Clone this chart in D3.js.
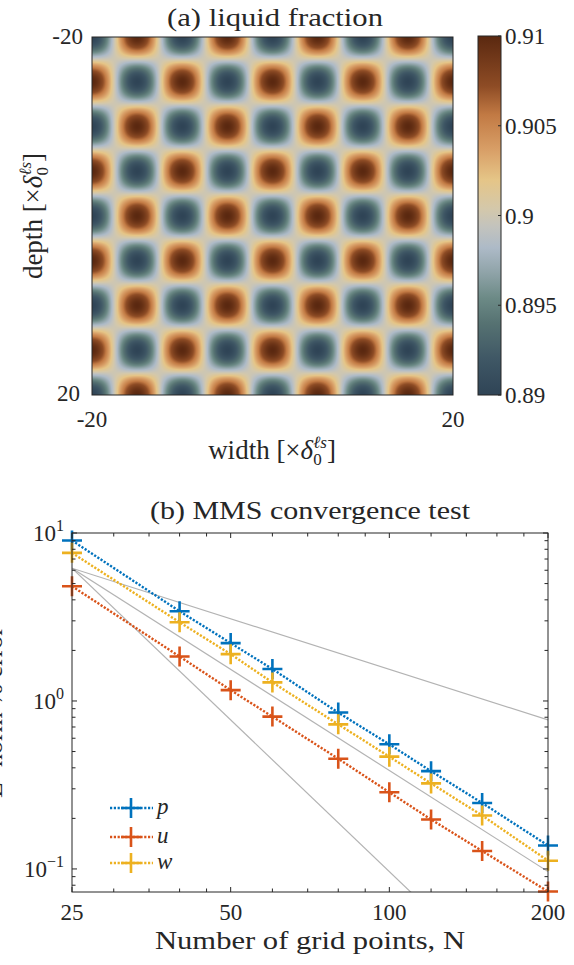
<!DOCTYPE html>
<html>
<head>
<meta charset="utf-8">
<script src="https://cdn.jsdelivr.net/npm/d3@7"></script>
<style>
  html, body { margin: 0; padding: 0; background: #fff; }
  svg text { font-family: 'Liberation Serif', 'Times New Roman', serif; fill: #262626; }
</style>
</head>
<body>
<svg id="fig" width="574" height="965"></svg>
<script>
// (a) manufactured liquid fraction field
const fieldExtent   = [-20, 20];
const fieldMean     = 0.9;
const fieldAmp      = 0.01;
const fieldPeriod   = 10;
const cbarTicks     = [0.89, 0.895, 0.9, 0.905, 0.91];
const cbarLabels    = ['0.89', '0.895', '0.9', '0.905', '0.91'];
const cmapPos       = [0, 0.1, 0.2, 0.27, 0.34, 0.41, 0.47, 0.52, 0.6, 0.68, 0.78, 0.86, 1];
const cmapColors    = ['#2f4456', '#3f5765', '#567272', '#6c8a86', '#8fa3a8', '#adbac7',
                       '#c3c3bd', '#d4c8aa', '#e5c587', '#d9a068', '#c27a44', '#8e4c25', '#5a2810'];

// (b) MMS convergence
const gridN     = [25, 40, 50, 60, 80, 100, 120, 150, 200];
const errP      = [9.02, 3.42, 2.21, 1.55, 0.853, 0.552, 0.382, 0.247, 0.138];
const errU      = [4.82, 1.84, 1.16, 0.807, 0.453, 0.286, 0.197, 0.128, 0.0734];
const errW      = [7.62, 2.94, 1.90, 1.29, 0.726, 0.466, 0.323, 0.208, 0.112];
const refStart  = {n: 25, v: 6.17};
const refOrders = [1, 2, 3];
const xMajor    = [25, 50, 100, 200];
const xMinor    = [30, 35, 40, 45, 60, 70, 80, 90, 120, 140, 160, 180];
const yMajor    = [0.1, 1, 10];
const yMajorExp = ['-1', '0', '1'];
const yMinor    = [0.08, 0.09, 0.2, 0.3, 0.4, 0.5, 0.6, 0.7, 0.8, 0.9, 2, 3, 4, 5, 6, 7, 8, 9];

const series = [
  {name: 'p', values: errP, color: '#0072BD'},
  {name: 'u', values: errU, color: '#D95319'},
  {name: 'w', values: errW, color: '#EDB120'},
];

const svg = d3.select('#fig');
const ink = '#262626';

// ---------- panel (a) ----------
const hx = d3.scaleLinear().domain(fieldExtent).range([92, 453]);
const hy = d3.scaleLinear().domain(fieldExtent).range([37, 395]);
const cmap = d3.scaleLinear()
  .domain(cmapPos.map(t => 0.89 + 0.02 * t))
  .range(cmapColors)
  .interpolate(d3.interpolateRgb)
  .clamp(true);

const cw = Math.round(hx.range()[1] - hx.range()[0]);
const ch = Math.round(hy.range()[1] - hy.range()[0]);
const canvas = document.createElement('canvas');
canvas.width = cw;
canvas.height = ch;
const ctx = canvas.getContext('2d');
const img = ctx.createImageData(cw, ch);
const k = 2 * Math.PI / fieldPeriod;
for (let j = 0; j < ch; j++) {
  const y = hy.invert(hy.range()[0] + j + 0.5);
  for (let i = 0; i < cw; i++) {
    const x = hx.invert(hx.range()[0] + i + 0.5);
    const v = fieldMean - fieldAmp * Math.cos(k * x) * Math.cos(k * y);
    const c = d3.rgb(cmap(v));
    const o = (j * cw + i) * 4;
    img.data[o] = c.r; img.data[o + 1] = c.g; img.data[o + 2] = c.b; img.data[o + 3] = 255;
  }
}
ctx.putImageData(img, 0, 0);

svg.append('image')
  .attr('x', hx.range()[0]).attr('y', hy.range()[0])
  .attr('width', cw).attr('height', ch)
  .attr('preserveAspectRatio', 'none')
  .attr('href', canvas.toDataURL());

svg.append('rect')
  .attr('x', hx.range()[0]).attr('y', hy.range()[0])
  .attr('width', cw).attr('height', ch)
  .attr('fill', 'none').attr('stroke', ink).attr('stroke-width', 1);

svg.append('text').attr('x', 275).attr('y', 26).attr('text-anchor', 'middle')
  .attr('font-size', 26).attr('textLength', 216).attr('lengthAdjust', 'spacingAndGlyphs')
  .text('(a) liquid fraction');

svg.append('text').attr('x', 83).attr('y', hy(-20) + 7).attr('text-anchor', 'end')
  .attr('font-size', 23).text('-20');
svg.append('text').attr('x', 80).attr('y', hy(20) + 6).attr('text-anchor', 'end')
  .attr('font-size', 23).text('20');
svg.append('text').attr('x', hx(-20)).attr('y', 427).attr('text-anchor', 'middle')
  .attr('font-size', 23).text('-20');
svg.append('text').attr('x', hx(20)).attr('y', 427).attr('text-anchor', 'middle')
  .attr('font-size', 23).text('20');

function deltaLabel(sel, word) {
  sel.append('tspan').text(word + ' [×');
  sel.append('tspan').attr('font-style', 'italic').text('δ');
  sel.append('tspan').attr('font-size', 17).attr('dy', 6).text('0');
  sel.append('tspan').attr('font-size', 17).attr('font-style', 'italic')
    .attr('dx', -8.5).attr('dy', -17).text('ℓs');
  sel.append('tspan').attr('dy', 11).text(']');
}

svg.append('text').attr('x', 272).attr('y', 459).attr('text-anchor', 'middle')
  .attr('font-size', 27).call(deltaLabel, 'width');
svg.append('text').attr('transform', 'translate(42,216) rotate(-90)').attr('text-anchor', 'middle')
  .attr('font-size', 27).call(deltaLabel, 'depth');

// colorbar
const cb = d3.scaleLinear().domain([0.89, 0.91]).range([395, 36]);
const grad = svg.append('defs').append('linearGradient')
  .attr('id', 'cbar').attr('x1', 0).attr('y1', 1).attr('x2', 0).attr('y2', 0);
grad.selectAll('stop').data(cmapPos).join('stop')
  .attr('offset', d => d)
  .attr('stop-color', (d, i) => cmapColors[i]);

svg.append('rect').attr('x', 478).attr('y', cb(0.91))
  .attr('width', 23).attr('height', cb(0.89) - cb(0.91))
  .attr('fill', 'url(#cbar)').attr('stroke', ink).attr('stroke-width', 1);

svg.selectAll('.cbtick').data(cbarTicks).join('line')
  .attr('x1', 498).attr('x2', 501)
  .attr('y1', d => cb(d)).attr('y2', d => cb(d))
  .attr('stroke', ink);

svg.selectAll('.cblabel').data(cbarTicks).join('text')
  .attr('x', 505).attr('y', d => cb(d) + 8)
  .attr('font-size', 23)
  .text((d, i) => cbarLabels[i]);

// ---------- panel (b) ----------
const L = 72, R = 548, T = 533, B = 892;
const x = d3.scaleLog().domain([25, 200]).range([L, R]);
const y = d3.scaleLog().domain([0.0729, 10]).range([B, T]);

svg.append('clipPath').attr('id', 'plotclip')
  .append('rect').attr('x', L).attr('y', T).attr('width', R - L).attr('height', B - T);

const plot = svg.append('g').attr('clip-path', 'url(#plotclip)');

plot.selectAll('.ref').data(refOrders).join('line')
  .attr('x1', x(refStart.n)).attr('y1', y(refStart.v))
  .attr('x2', x(200)).attr('y2', d => y(refStart.v * Math.pow(refStart.n / 200, d)))
  .attr('stroke', '#b3b3b3').attr('stroke-width', 1.2);

const line = d3.line().x((d, i) => x(gridN[i])).y(d => y(d));

const plotAll = svg.append('g');
series.forEach(s => {
  plotAll.append('path')
    .attr('d', line(s.values))
    .attr('fill', 'none').attr('stroke', s.color)
    .attr('stroke-width', 2.4).attr('stroke-dasharray', '2.2 1.6');
});

function plus(g, cx, cy, color) {
  g.append('path')
    .attr('d', `M${cx - 10},${cy}H${cx + 10}M${cx},${cy - 10}V${cy + 10}`)
    .attr('stroke', color).attr('stroke-width', 2.6).attr('fill', 'none');
}
series.forEach(s => {
  s.values.forEach((v, i) => plus(plotAll, x(gridN[i]), y(v), s.color));
});

// frame and ticks
svg.append('rect').attr('x', L).attr('y', T).attr('width', R - L).attr('height', B - T)
  .attr('fill', 'none').attr('stroke', ink).attr('stroke-width', 1);

const tickG = svg.append('g').attr('stroke', ink).attr('stroke-width', 1);
[...xMajor.map(d => [d, 5]), ...xMinor.map(d => [d, 3.5])].forEach(([d, len]) => {
  tickG.append('line').attr('x1', x(d)).attr('x2', x(d)).attr('y1', B).attr('y2', B - len);
  tickG.append('line').attr('x1', x(d)).attr('x2', x(d)).attr('y1', T).attr('y2', T + len);
});
[...yMajor.map(d => [d, 5]), ...yMinor.map(d => [d, 3.5])].forEach(([d, len]) => {
  tickG.append('line').attr('y1', y(d)).attr('y2', y(d)).attr('x1', L).attr('x2', L + len);
  tickG.append('line').attr('y1', y(d)).attr('y2', y(d)).attr('x1', R).attr('x2', R - len);
});

svg.selectAll('.xlab').data(xMajor).join('text')
  .attr('x', d => x(d)).attr('y', 920).attr('text-anchor', 'middle')
  .attr('font-size', 23).text(d => d);

yMajor.forEach((d, i) => {
  const t = svg.append('text').attr('x', 64).attr('y', y(d) + 8)
    .attr('text-anchor', 'end').attr('font-size', 23);
  t.append('tspan').text('10');
  t.append('tspan').attr('font-size', 16).attr('dy', -10)
    .text(yMajorExp[i].replace('-', '−'));
});

svg.append('text').attr('x', 310).attr('y', 519).attr('text-anchor', 'middle')
  .attr('font-size', 26).attr('textLength', 320).attr('lengthAdjust', 'spacingAndGlyphs')
  .text('(b) MMS convergence test');

svg.append('text').attr('x', 310).attr('y', 949).attr('text-anchor', 'middle')
  .attr('font-size', 26).attr('textLength', 310).attr('lengthAdjust', 'spacingAndGlyphs')
  .text('Number of grid points, N');

const ylab = svg.append('text').attr('transform', `translate(1.5,${(T + B) / 2}) rotate(-90)`)
  .attr('text-anchor', 'middle').attr('font-size', 26);
ylab.append('tspan').text('L');
ylab.append('tspan').attr('font-size', 17).attr('dy', -10).text('2');
ylab.append('tspan').attr('dy', 10).text(' norm % error');

// legend
const legY = [808, 837, 863];
const legend = svg.append('g');
series.forEach((s, i) => {
  legend.append('line')
    .attr('x1', 110).attr('x2', 153).attr('y1', legY[i]).attr('y2', legY[i])
    .attr('stroke', s.color).attr('stroke-width', 2.4).attr('stroke-dasharray', '2.2 1.6');
  plus(legend, 131, legY[i], s.color);
  legend.append('text').attr('x', 157).attr('y', legY[i] + 6)
    .attr('font-size', 23).attr('font-style', 'italic').text(s.name);
});
</script>
</body>
</html>
